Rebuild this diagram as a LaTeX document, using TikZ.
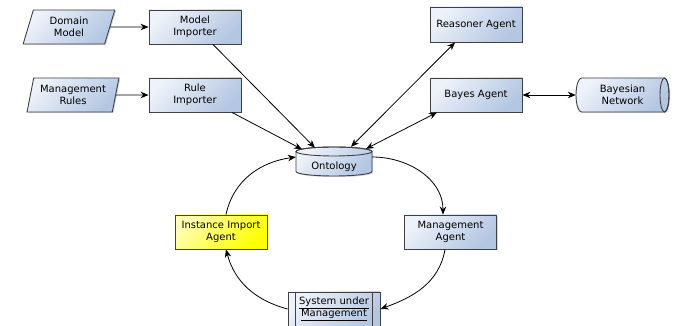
\documentclass[tikz,border=0pt]{standalone}
\usepackage{fontspec}
\setmainfont{DejaVu Sans}
\usetikzlibrary{arrows.meta,shapes.geometric,shadows,calc}
\definecolor{bluelight}{HTML}{EEF2FA}
\definecolor{bluedark}{HTML}{B3C6E2}
\definecolor{yellight}{HTML}{FFFFB0}
\definecolor{yeldark}{HTML}{FFFF00}
\definecolor{edgecol}{HTML}{404040}
\tikzset{
  txt/.style={font=\fontsize{10}{12}\selectfont, align=center, text=black},
  shad/.style={drop shadow={shadow xshift=1.2pt, shadow yshift=-1.2pt, opacity=0.3}},
  outline/.style={draw=edgecol, line width=0.9pt},
  bluefill/.style={left color=bluelight, right color=bluedark, shading angle=45},
  box/.style={txt, outline, shad, bluefill, rectangle, minimum width=92pt, minimum height=34pt, inner sep=2pt},
  ybox/.style={box, left color=yellight, right color=yeldark, shading angle=45},
  para/.style={txt, outline, shad, bluefill, trapezium, trapezium left angle=75, trapezium right angle=105, trapezium stretches=true, minimum width=92pt, minimum height=34pt, inner sep=1pt},
  conn/.style={draw=black, line width=0.8pt, -{Stealth[length=8pt,width=6.5pt]}},
  biconn/.style={draw=black, line width=0.8pt, {Stealth[length=8pt,width=6.5pt]}-{Stealth[length=8pt,width=6.5pt]}},
}
\begin{document}
\begin{tikzpicture}[x=1pt,y=1pt]
\useasboundingbox (0,0) rectangle (677,326);

% plain boxes
\node[para] (dm) at (69,299) {Domain\\Model};
\node[box] (mi) at (195,299) {Model\\Importer};
\node[para] (mr) at (73,231) {Management\\Rules};
\node[box] (ri) at (195,231) {Rule\\Importer};
\node[box, minimum height=35pt] (ra) at (476,301.5) {Reasoner Agent};
\node[box] (ba) at (476,231) {Bayes Agent};
\node[ybox] (ia) at (221,94) {Instance Import\\Agent};
\node[box] (ma) at (450.5,94) {Management\\Agent};
\node[box] (sm) at (334,17) {\underline{System under}\\\underline{Management}};
\draw[outline] ([xshift=8pt]sm.north west) -- ([xshift=8pt]sm.south west);
\draw[outline] ([xshift=-8pt]sm.north east) -- ([xshift=-8pt]sm.south east);

% Bayesian network (horizontal cylinder)
\coordinate (bnc) at (622.5,231);
\begin{scope}[shift={(bnc)}]
  \path[outline, shad, bluefill] (-41,17) arc[start angle=90,end angle=270,x radius=5.5,y radius=17]
     -- (42,-17) arc[start angle=-90,end angle=90,x radius=4.5,y radius=17] -- cycle;
  \draw[outline] (42,0) ellipse[x radius=4.5, y radius=17];
\end{scope}
\node[txt, minimum width=93pt, minimum height=34pt, inner sep=0pt] (bn) at (bnc) {Bayesian\\Network};

% Ontology (vertical cylinder)
\coordinate (oc) at (334,164.5);
\begin{scope}[shift={(oc)}]
  \path[outline, shad, bluefill] (-38,10) -- (-38,-10) arc[start angle=180,end angle=360,x radius=38,y radius=4.5]
     -- (38,10) arc[start angle=0,end angle=180,x radius=38,y radius=4.5] -- cycle;
  \draw[outline] (0,10) ellipse[x radius=38, y radius=4.5];
\end{scope}
\node[minimum width=76pt, minimum height=29pt, inner sep=0pt] (onto) at (oc) {};
\node[txt, inner sep=0pt] (ontotext) at ($(oc)+(0,-5.5)$) {Ontology};

% connectors
\draw[conn] (dm) -- (mi);
\draw[conn] (mr) -- (ri);
\draw[conn] ([xshift=18pt]mi.south) -- ($(onto.north)+(-19,-1)$);
\draw[conn] ([xshift=37pt]ri.south) -- ($(onto.north)+(-32,-2.5)$);
\draw[biconn] ([xshift=-21pt]ra.south) -- ($(onto.north)+(17,0)$);
\draw[biconn] ([xshift=-39pt]ba.south) -- ($(onto.north)+(32,-2)$);
\draw[biconn] (ba) -- (bn);

% cycle
\draw[conn] ([yshift=4.5pt]onto.east) to[out=0,in=90] ([xshift=-7.5pt]ma.north);
\draw[conn] ([xshift=-5.5pt]ma.south) to[out=-100,in=20] (sm.east);
\draw[conn] (sm.west) to[out=165,in=-75] ([xshift=5pt]ia.south);
\draw[conn] ([xshift=5pt]ia.north) to[out=78,in=188] ([yshift=4.5pt]onto.west);
\end{tikzpicture}
\end{document}
